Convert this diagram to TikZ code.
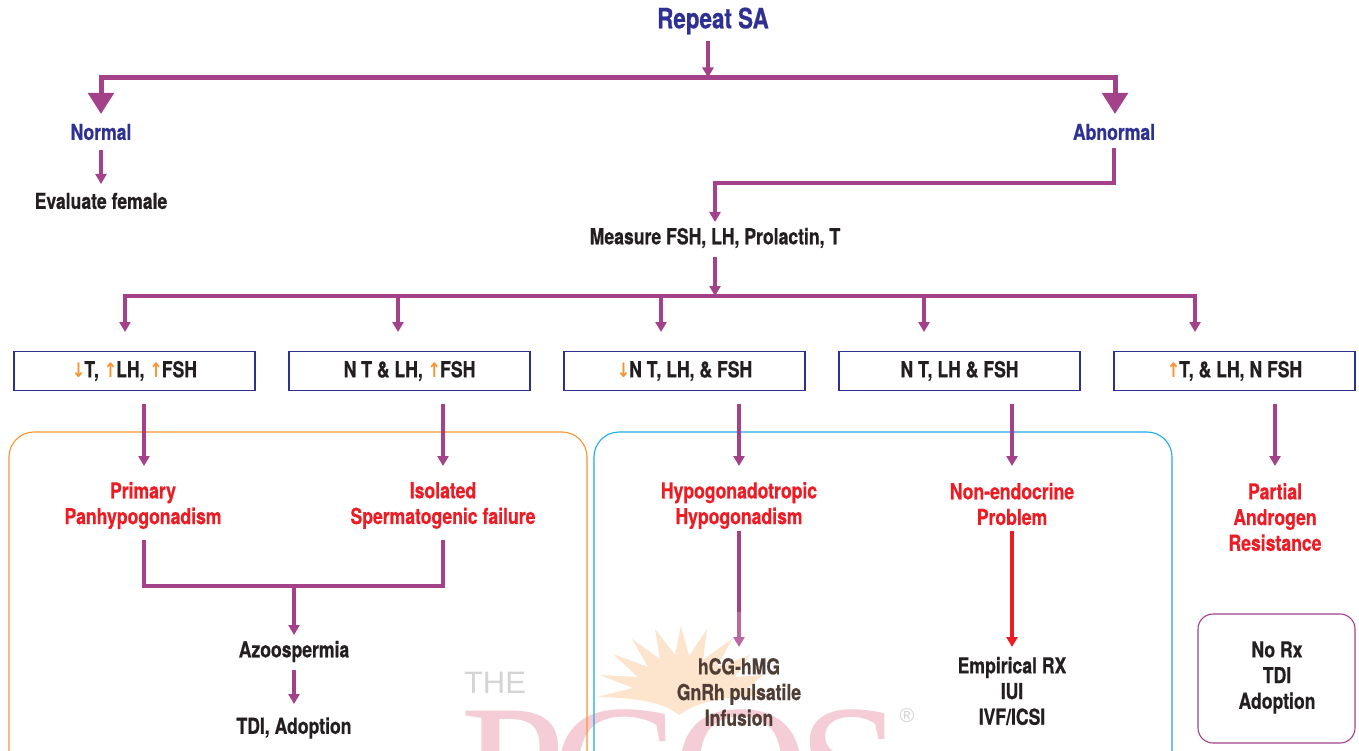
\documentclass[tikz,border=0pt]{standalone}
\usepackage{fontspec}
\setmainfont{TeX Gyre Heros}[FakeStretch=0.80,BoldFeatures={FakeBold=0.6}]
\newfontfamily\arrowfont{DejaVu Sans}[FakeStretch=0.8]
\newfontfamily\wmfont{Liberation Serif}
\newfontfamily\wmsans{Liberation Sans}
\usetikzlibrary{arrows.meta}
\definecolor{navy}{RGB}{46,49,146}
\definecolor{plum}{RGB}{163,65,137}
\definecolor{plumfade}{RGB}{187,105,165}
\definecolor{ink}{RGB}{35,31,32}
\definecolor{inkfade}{RGB}{80,62,54}
\definecolor{alert}{RGB}{237,28,36}
\definecolor{orng}{RGB}{247,148,50}
\definecolor{cyanb}{RGB}{30,170,230}
\definecolor{sunc}{RGB}{252,228,205}
\definecolor{pinkc}{RGB}{245,205,214}
\definecolor{greyc}{RGB}{212,212,212}
\newcommand{\arup}{{\arrowfont\bfseries\fontsize{20}{26}\selectfont\color{orng}↑\kern-1pt}}
\newcommand{\ardn}{{\arrowfont\bfseries\fontsize{20}{26}\selectfont\color{orng}↓\kern-1pt}}
\newcommand{\boxtxt}[1]{\raisebox{-1pt}{#1}}
\tikzset{
  x=1pt,y=-1pt,
  txt/.style={font=\fontsize{22}{25.7}\selectfont\bfseries,text=ink,align=center,inner sep=0pt},
  head/.style={txt,text=navy},
  bad/.style={txt,text=alert},
  fade/.style={txt,text=inkfade},
  lab/.style={draw=navy,line width=1.1pt,minimum width=241pt,minimum height=39.5pt,inner sep=0pt,txt},
  conn/.style={draw=plum,line width=3.2pt},
  arr/.style={conn,-{Triangle[width=11pt,length=10pt]}},
  bigarr/.style={draw=plum,line width=5pt,-{Triangle[width=25pt,length=21pt]}},
  group/.style={rounded corners=25pt,line width=1.1pt}
}
\begin{document}
\begin{tikzpicture}
\useasboundingbox (0,0) rectangle (1359,751);
\fill[white] (0,0) rectangle (1359,751);
\begin{scope}
\clip (0,0) rectangle (1359,751);
% watermark
\fill[sunc] (597,697)--(633,688)--(600,675)--(638,677)--(613,654)--(648,667)--(632,639)--(660,659)--(655,629)--(675,655)--(681,626)--(689,656)--(707,629)--(703,660)--(732,639)--(717,667)--(750,655)--(735,677)--(763,675)--(748,688)--(767,695)
  .. controls (725,697) and (700,700) .. (679,715) .. controls (665,703) and (640,698) .. (597,697) -- cycle;
\node[inner sep=0pt,anchor=center,text=greyc,font=\wmsans\fontsize{31}{31}\selectfont] (wmthe) at (495,683) {THE};
\node[inner sep=0pt,anchor=base west,text=pinkc,font=\wmfont\fontsize{190}{190}\selectfont] (wmpcos) at (460,835) {P\kern-14pt C\kern-6pt O\kern-12pt S};
\node[inner sep=0pt,text=greyc,font=\wmsans\fontsize{20}{20}\selectfont] (wmreg) at (907,716) {®};
% group frames
\draw[group,draw=orng] (9,800) -- (9,432) -- (587,432) -- (587,800);
\draw[group,draw=cyanb] (594,800) -- (594,432) -- (1172,432) -- (1172,800);
\end{scope}
\draw[draw=plum,line width=1.1pt,rounded corners=15pt] (1198,614) rectangle (1355,743);

% nodes
\node[head,font=\fontsize{28}{30}\selectfont\bfseries] (repeat) at (713,21) {Repeat SA};
\node[head] (normal) at (101,132) {Normal};
\node[head] (abnormal) at (1114,132) {Abnormal};
\node[txt] (evalf) at (101,201) {Evaluate female};
\node[txt] (measure) at (715,238) {Measure FSH, LH, Prolactin, T};
\node[lab] (b1) at (134.5,371) {\boxtxt{\ardn T, \arup LH, \arup FSH}};
\node[lab] (b2) at (409.5,371) {\boxtxt{N T \& LH, \arup FSH}};
\node[lab] (b3) at (684.5,371) {\boxtxt{\ardn N T, LH, \& FSH}};
\node[lab] (b4) at (959.5,371) {\boxtxt{N T, LH \& FSH}};
\node[lab] (b5) at (1234.5,371) {\boxtxt{\arup T, \& LH, N FSH}};
\node[bad] (primary) at (143,505.5) {Primary\\Panhypogonadism};
\node[bad] (isolated) at (443,505.5) {Isolated\\Spermatogenic failure};
\node[bad] (hypo) at (739,505.5) {Hypogonadotropic\\Hypogonadism};
\node[bad] (nonendo) at (1012,504) {Non-endocrine\\Problem};
\node[bad] (partial) at (1275,517) {Partial\\Androgen\\Resistance};
\node[txt] (azoo) at (294,651.5) {Azoospermia};
\node[txt] (tdi) at (294,728) {TDI, Adoption};
\node[fade] (hcg) at (739,692) {hCG-hMG\\GnRh pulsatile\\Infusion};
\node[txt] (emp) at (1012,691) {Empirical RX\\IUI\\IVF/ICSI};
\node[txt] (norx) at (1277,677.5) {No Rx\\TDI\\Adoption};

% junctions
\coordinate (topbar) at (708,77.5);
\coordinate (barL) at (101,77.5);
\coordinate (barR) at (1115,77.5);
\coordinate (midbar) at (715,296);
\coordinate (mergeT) at (294,586);
\coordinate (abstart) at (1114,148);
\coordinate (abbend) at (1114,183);
\coordinate (abturn) at (715,183);
\coordinate (abend) at (715,222);

% connectors
\draw[arr] (repeat.south -| topbar) ++(0,6) -- (topbar);
\draw[draw=plum,line width=5pt,line cap=rect] (barL) -- (barR);
\draw[bigarr] (barL) -- (101,114);
\draw[bigarr] (barR) -- (1115,114);
\draw[arr] (101,150) -- (101,184);
\draw[arr,line join=miter] (abstart) -- (abbend) -- (abturn) -- (abend);
\draw[arr] (715,257) -- (midbar);
\draw[conn,line cap=rect] (125,296) -- (1195,296);
\coordinate (d1) at (125,296); \coordinate (d2) at (398,296); \coordinate (d3) at (661,296); \coordinate (d4) at (924,296); \coordinate (d5) at (1195,296);
\draw[arr] (d1) -- (125,332);
\draw[arr] (d2) -- (398,332);
\draw[arr] (d3) -- (661,332);
\draw[arr] (d4) -- (924,332);
\draw[arr] (d5) -- (1195,332);
\draw[arr] (144,404) -- (144,466);
\draw[arr] (443,404) -- (443,466);
\draw[arr] (739,404) -- (739,466);
\draw[arr] (1012,404) -- (1012,466);
\draw[arr] (1275,404) -- (1275,466);
\draw[conn,line join=miter] (144,540) -- (144,586) -- (443,586) -- (443,540);
\draw[arr] (mergeT) -- (294,635);
\draw[arr] (294,670) -- (294,704);
\draw[conn] (739,531) -- (739,612);
\draw[draw=plumfade,line width=3.2pt,-{Triangle[width=11pt,length=10pt]}] (739,612) -- (739,647);
\draw[draw=alert,line width=3.2pt,-{Triangle[width=11pt,length=10pt]}] (1012,531) -- (1012,647);
\end{tikzpicture}
\end{document}
